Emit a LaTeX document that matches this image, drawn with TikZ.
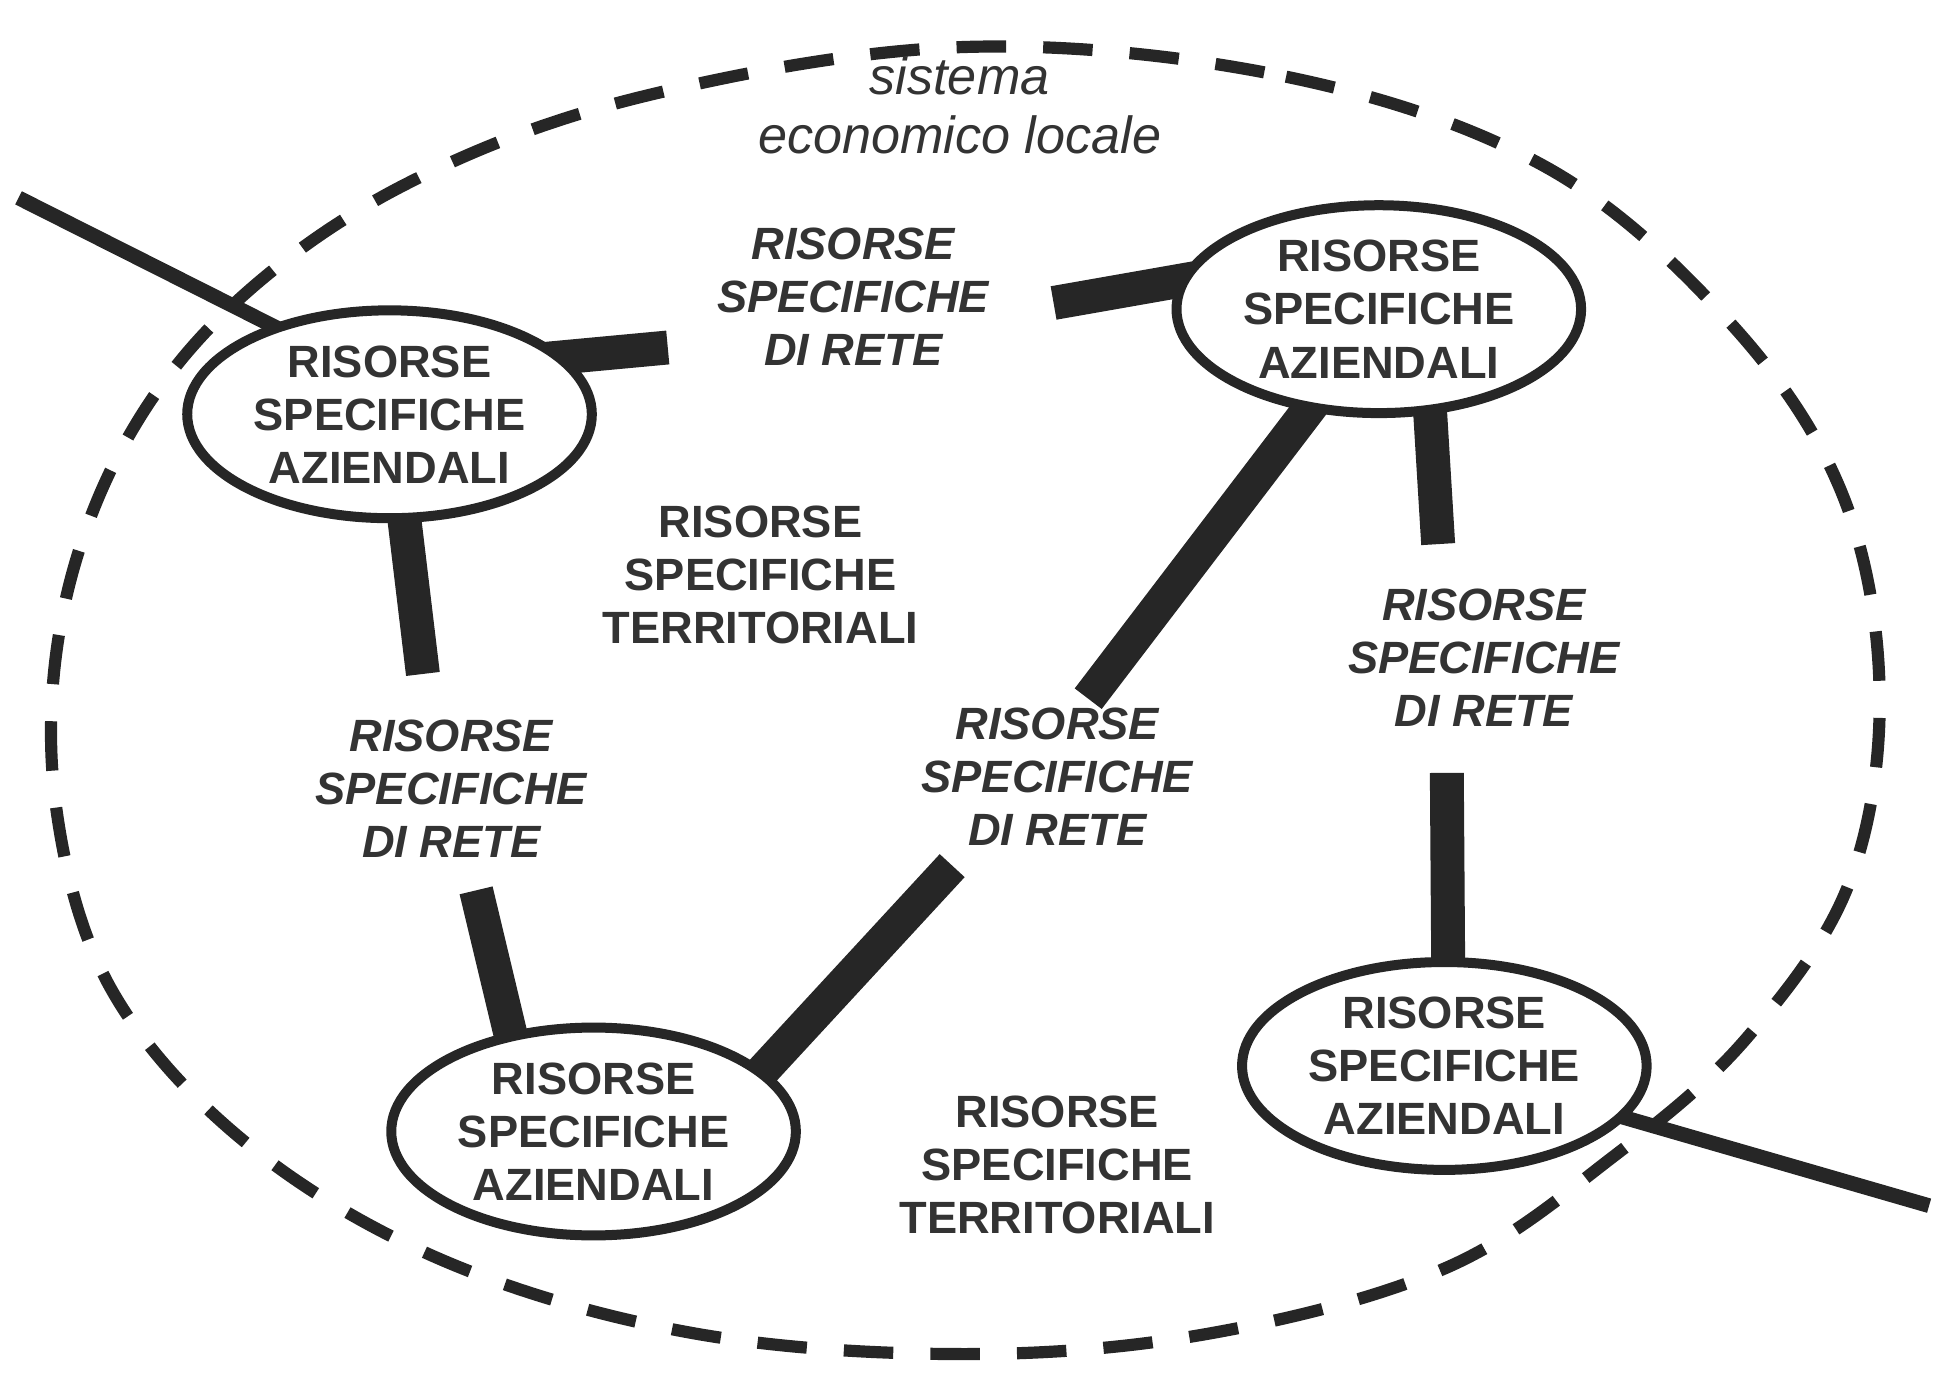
\documentclass[tikz,border=0pt]{standalone}
\usepackage{fontspec}
\setmainfont{Liberation Sans}
\usetikzlibrary{shapes.geometric,backgrounds}
\definecolor{ink}{HTML}{262626}
\definecolor{txt}{HTML}{333333}
\begin{document}
\begin{tikzpicture}[x=0.01cm,y=-0.01cm,
  firm/.style={ellipse, draw=ink, line width=2.3pt, fill=white,
    minimum width=3.27cm, minimum height=1.68cm, inner sep=-3pt,
    align=center, font=\fontsize{10.4}{12.2}\selectfont\bfseries, text=txt},
  lbl/.style={align=center, font=\fontsize{10.4}{12.2}\selectfont\bfseries, text=txt},
  net/.style={lbl, font=\fontsize{10.4}{12.2}\selectfont\bfseries\itshape},
  bar/.style={draw=ink, line width=7.8pt, shorten <=-8pt},
  tie/.style={draw=ink, line width=3.4pt, shorten <=-4pt},
  border/.style={draw=ink, line width=2.8pt, dash pattern=on 0.40cm off 0.30cm}
]
\useasboundingbox (0,0) rectangle (1568,1130);

% firms
\node[firm] (A) at (315,335) {RISORSE\\SPECIFICHE\\AZIENDALI};
\node[firm] (B) at (1115,250) {RISORSE\\SPECIFICHE\\AZIENDALI};
\node[firm] (C) at (480,915) {RISORSE\\SPECIFICHE\\AZIENDALI};
\node[firm] (D) at (1168,862) {RISORSE\\SPECIFICHE\\AZIENDALI};

% free labels
\node[font=\fontsize{12}{13.6}\selectfont\itshape, text=txt, align=center] (sys) at (776,85) {sistema\\economico locale};
\node[net] (r1) at (690,240) {RISORSE\\SPECIFICHE\\DI RETE};
\node[lbl] (t1) at (615,465) {RISORSE\\SPECIFICHE\\TERRITORIALI};
\node[net] (r2) at (365,638) {RISORSE\\SPECIFICHE\\DI RETE};
\node[net] (r3) at (855,628) {RISORSE\\SPECIFICHE\\DI RETE};
\node[net] (r4) at (1200,532) {RISORSE\\SPECIFICHE\\DI RETE};
\node[lbl] (t2) at (855,942) {RISORSE\\SPECIFICHE\\TERRITORIALI};

% free ends of the links
\coordinate (a1) at (540,281);
\coordinate (a2) at (342,545);
\coordinate (b1) at (852,245);
\coordinate (b2) at (880,565);
\coordinate (b3) at (1163,440);
\coordinate (c1) at (385,720);
\coordinate (c2) at (770,700);
\coordinate (d1) at (1170,625);
\coordinate (w1) at (15,160);
\coordinate (e1) at (1560,975);

\begin{scope}[on background layer]
  % boundary of the local economic system
  \draw[border] plot[smooth cycle, tension=0.6] coordinates {
    (780,38) (1040,62) (1250,135) (1400,262) (1490,400) (1520,560)
    (1495,715) (1412,840) (1305,935) (1170,1025) (980,1078) (780,1095)
    (560,1078) (360,1020) (200,925) (90,800) (45,650) (50,500)
    (100,360) (190,245) (330,148) (520,78)};
  % links
  \draw[bar] (A.18) -- (a1);
  \draw[bar] (A.-82) -- (a2);
  \draw[bar] (B.172) -- (b1);
  \draw[bar] (B.-125) -- (b2);
  \draw[bar] (B.-64) -- (b3);
  \draw[bar] (C.130) -- (c1);
  \draw[bar] (C.20) -- (c2);
  \draw[bar] (D.88) -- (d1);
  \draw[tie] (A.143) -- (w1);
  \draw[tie] (D.-16) -- (e1);
\end{scope}
\end{tikzpicture}
\end{document}
